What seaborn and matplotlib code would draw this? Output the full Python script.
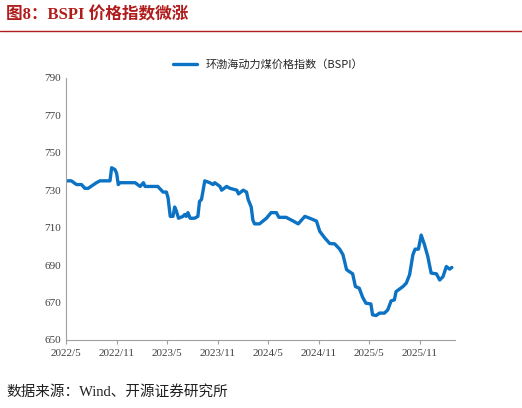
import pandas as pd
import matplotlib.pyplot as plt
import matplotlib.dates as mdates
import seaborn as sns

# Weekly-ish readings of the BSPI index
dates = ['2022-05-03', '2022-05-21', '2022-06-09', '2022-06-27', '2022-07-09', '2022-07-21',
         '2022-08-20', '2022-09-02', '2022-10-08', '2022-10-14', '2022-10-26', '2022-11-01',
         '2022-11-07', '2022-11-13', '2023-01-07', '2023-01-25', '2023-02-06', '2023-02-12',
         '2023-03-30', '2023-04-18', '2023-04-30', '2023-05-06', '2023-05-14', '2023-05-24',
         '2023-05-30', '2023-06-05', '2023-06-13', '2023-06-29', '2023-07-05', '2023-07-11',
         '2023-07-17', '2023-07-25', '2023-08-10', '2023-08-22', '2023-08-28', '2023-09-04',
         '2023-09-16', '2023-10-04', '2023-10-16', '2023-10-22', '2023-11-10', '2023-11-16',
         '2023-12-04', '2023-12-16', '2024-01-10', '2024-01-16', '2024-02-02', '2024-02-14',
         '2024-02-20', '2024-03-02', '2024-03-08', '2024-03-14', '2024-04-01', '2024-04-26',
         '2024-05-13', '2024-06-01', '2024-06-10', '2024-07-06', '2024-08-01', '2024-08-19',
         '2024-09-12', '2024-09-30', '2024-10-24', '2024-11-05', '2024-11-23', '2024-12-11',
         '2024-12-29', '2025-01-16', '2025-01-28', '2025-02-10', '2025-03-04', '2025-03-14',
         '2025-03-28', '2025-04-09', '2025-04-21', '2025-05-09', '2025-05-15', '2025-05-28',
         '2025-06-09', '2025-06-27', '2025-07-09', '2025-07-21', '2025-08-02', '2025-08-08',
         '2025-09-02', '2025-09-14', '2025-09-26', '2025-10-08', '2025-10-16', '2025-10-28',
         '2025-11-07', '2025-11-19', '2025-12-01', '2025-12-13', '2026-01-01', '2026-01-13',
         '2026-01-25', '2026-02-06', '2026-02-18', '2026-02-26']
bspi = [735, 735, 733, 733, 731, 731, 734, 735, 735, 742, 741, 739,
        733, 734, 734, 732, 734, 732, 732, 729, 729, 726, 716, 716,
        721, 719, 715, 716, 717, 716, 718, 715, 715, 716, 724, 725,
        735, 734, 733, 734, 732, 730, 732, 731, 730, 728, 730, 729,
        725, 721, 714, 712, 712, 715, 718, 718, 715.5, 715.5, 713.5, 712,
        716, 715, 713.5, 708, 704.5, 701.5, 701.3, 698.5, 695.5, 687.5, 685.3, 678.5,
        677.6, 672.8, 669.6, 669.2, 663.4, 663, 664.3, 664.3, 666, 670.8, 671.4, 675.8,
        678.5, 680.3, 684.8, 695.5, 698.5, 698.5, 706, 700.8, 694.5, 685.7, 685.3, 682,
        683.8, 689.2, 687.8, 688.7]
series_name = '环渤海动力煤价格指数（BSPI）'
y_ticks = [650, 670, 690, 710, 730, 750, 770, 790]
x_ticks = ['2022-05-01', '2022-11-01', '2023-05-01', '2023-11-01', '2024-05-01',
           '2024-11-01', '2025-05-01', '2025-11-01']

df = pd.DataFrame({'date': pd.to_datetime(dates), 'value': bspi})

sns.set_style('white')
plt.rcParams['font.family'] = ['Liberation Serif', 'Noto Sans CJK SC']

fig = plt.figure(figsize=(5.22, 4.08), dpi=100)
ax = fig.add_axes([0.126, 0.167, 0.746, 0.642])
sns.lineplot(data=df, x='date', y='value', ax=ax, color='#0B72C4', linewidth=2.4,
             label=series_name)

ax.set_ylim(650, 790)
ax.set_yticks(y_ticks)
ax.set_xlim(pd.Timestamp('2022-05-01'), pd.Timestamp('2026-03-10'))
ax.set_xticks(pd.to_datetime(x_ticks))
ax.xaxis.set_major_formatter(mdates.DateFormatter('%Y/%-m'))
ax.set_xlabel('')
ax.set_ylabel('')
for s in ['top', 'right']:
    ax.spines[s].set_visible(False)
for s in ['left', 'bottom']:
    ax.spines[s].set_color('#A0A0A0')
    ax.spines[s].set_linewidth(0.8)
ax.tick_params(axis='y', length=0, labelsize=8, colors='#404040')
ax.tick_params(axis='x', length=3, direction='out', labelsize=8, colors='#404040',
               bottom=True, color='#A0A0A0')

leg = ax.legend(loc='upper center', bbox_to_anchor=(0.52, 1.11), frameon=False,
                prop={'family': ['Noto Sans CJK SC'], 'size': 8}, handlelength=2.2)

fig.text(0.012, 0.962, '图8：BSPI 价格指数微涨', color='#B01C1C', fontsize=12,
         fontweight='bold', family=['Liberation Serif', 'Noto Sans CJK SC'], va='center')
fig.add_artist(plt.Line2D([0.0, 1.0], [0.925, 0.925], color='#B01C1C', linewidth=1.0))
fig.text(0.012, 0.04, '数据来源：Wind、开源证券研究所', fontsize=10.5,
         family=['Liberation Serif', 'Noto Sans CJK SC'], va='center', color='#202020')

fig.savefig('out.png', dpi=100)
